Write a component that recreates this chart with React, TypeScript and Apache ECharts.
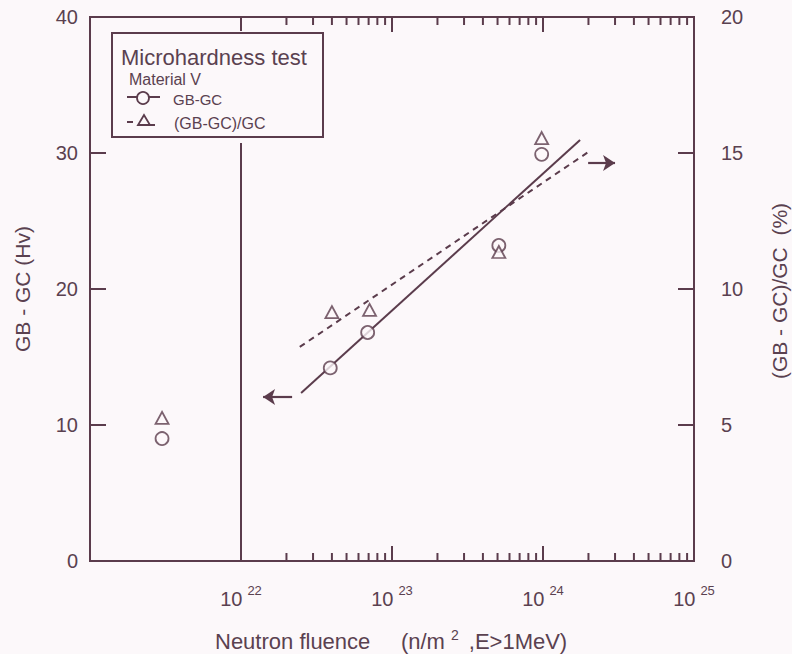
import React, { useEffect, useRef } from "react";
import * as echarts from "echarts";

// ---- data ----
const fluence = [3.0e21, 3.9e22, 6.9e22, 5.1e23, 9.8e23];
const gbMinusGc = [9.0, 14.2, 16.8, 23.2, 29.9];
const ratioFluence = [3.0e21, 4.0e22, 7.1e22, 5.1e23, 9.8e23];
const ratioPct = [5.26, 9.15, 9.23, 11.36, 15.55];
const solidFitX = [2.5e22, 1.76e24];
const solidFitY = [12.35, 30.96];
const dashedFitX = [2.45e22, 2.0e24];
const dashedFitY = [7.87, 15.04];
const tickDecades = [22, 23, 24];
const breakFluence = 1e22;
const leftArrowX = [2.18e22, 1.4e22];
const leftArrowY = 12.06;
const rightArrowX = [1.99e24, 3.0e24];
const rightArrowY = 29.26;

const C = "#5b3c4c";
const T = "#5a4150";
const BG = "#fcf8fa";
const FONT = "Liberation Sans";

export default function App() {
  const ref = useRef<HTMLDivElement>(null);
  useEffect(() => {
    if (!ref.current) return;
    const chart = echarts.init(ref.current, null, { renderer: "svg" });
    const tickData: number[][] = [];
    tickDecades.forEach((d) => {
      for (let k = 1; k <= 9; k++) tickData.push([k * Math.pow(10, d), 0, k === 1 ? 1 : 0]);
    });
    const hollow = { color: BG, borderColor: C, borderWidth: 1.8 };
    const option: any = {
      animation: false,
      backgroundColor: BG,
      textStyle: { fontFamily: FONT },
      grid: { left: 90, right: 98, top: 17, bottom: 93, show: true, borderColor: C, borderWidth: 2, backgroundColor: "transparent" },
      xAxis: {
        type: "log",
        logBase: 10,
        min: 1e21,
        max: 1e25,
        splitNumber: 4,
        axisLine: { show: true, lineStyle: { color: C, width: 2 } },
        axisTick: { show: false },
        splitLine: { show: false },
        axisLabel: {
          margin: 23,
          color: T,
          fontFamily: FONT,
          formatter: (v: number) => {
            const e = Math.round(Math.log10(v));
            if (e <= 21) return "";
            return `{b|10}{s|${e}}`;
          },
          rich: {
            b: { fontSize: 20, color: T, fontFamily: FONT, verticalAlign: "bottom" },
            s: { fontSize: 13, color: T, fontFamily: FONT, verticalAlign: "bottom", padding: [0, 0, 12, 5] },
          },
        },
      },
      yAxis: [
        {
          type: "value",
          min: 0,
          max: 40,
          interval: 10,
          axisLine: { show: true, lineStyle: { color: C, width: 2 } },
          axisTick: { show: true, inside: true, length: 16, lineStyle: { color: C, width: 2 } },
          splitLine: { show: false },
          axisLabel: { color: T, fontSize: 20, fontFamily: FONT, margin: 12 },
        },
        {
          type: "value",
          min: 0,
          max: 20,
          interval: 5,
          position: "right",
          axisLine: { show: true, lineStyle: { color: C, width: 2 } },
          axisTick: { show: true, inside: true, length: 16, lineStyle: { color: C, width: 2 } },
          splitLine: { show: false },
          axisLabel: { color: T, fontSize: 20, fontFamily: FONT, margin: 27 },
        },
      ],
      series: [
        {
          type: "custom",
          coordinateSystem: "cartesian2d",
          xAxisIndex: 0,
          yAxisIndex: 0,
          silent: true,
          data: tickData,
          renderItem: (params: any, api: any) => {
            const v = api.value(0);
            const major = api.value(2) === 1;
            const b = api.coord([v, 0]);
            const t = api.coord([v, 40]);
            const len = major ? 15 : 8;
            return {
              type: "group",
              children: [
                { type: "line", shape: { x1: b[0], y1: b[1], x2: b[0], y2: b[1] - len }, style: { stroke: C, lineWidth: 2 } },
                { type: "line", shape: { x1: t[0], y1: t[1], x2: t[0], y2: t[1] + len }, style: { stroke: C, lineWidth: 2 } },
              ],
            };
          },
        },
        {
          type: "line",
          xAxisIndex: 0,
          yAxisIndex: 0,
          data: [[breakFluence, 0], [breakFluence, 40]],
          symbol: "none",
          lineStyle: { color: C, width: 2 },
          z: 2,
        },
        {
          type: "line",
          yAxisIndex: 0,
          data: solidFitX.map((x, i) => [x, solidFitY[i]]),
          symbol: "none",
          lineStyle: { color: C, width: 2 },
          z: 3,
        },
        {
          type: "line",
          yAxisIndex: 1,
          data: dashedFitX.map((x, i) => [x, dashedFitY[i]]),
          symbol: "none",
          lineStyle: { color: C, width: 2, type: [6, 5] },
          z: 3,
        },
        {
          type: "lines",
          coordinateSystem: "cartesian2d",
          xAxisIndex: 0,
          yAxisIndex: 0,
          symbol: ["none", "arrow"],
          symbolSize: [11, 12],
          lineStyle: { color: C, width: 2.2, opacity: 1, curveness: 0 },
          data: [
            { coords: [[leftArrowX[0], leftArrowY], [leftArrowX[1], leftArrowY]] },
            { coords: [[rightArrowX[0], rightArrowY], [rightArrowX[1], rightArrowY]] },
          ],
          z: 4,
        },
        {
          type: "scatter",
          name: "GB-GC",
          yAxisIndex: 0,
          data: fluence.map((x, i) => [x, gbMinusGc[i]]),
          symbol: "circle",
          symbolSize: 13,
          itemStyle: hollow,
          z: 5,
        },
        {
          type: "scatter",
          name: "(GB-GC)/GC",
          yAxisIndex: 1,
          data: ratioFluence.map((x, i) => [x, ratioPct[i]]),
          symbol: "triangle",
          symbolSize: [13, 12],
          itemStyle: hollow,
          z: 5,
        },
      ],
      graphic: [
        { type: "rect", z: 100, shape: { x: 106, y: 31, width: 224, height: 112 }, style: { fill: BG } },
        { type: "rect", z: 101, shape: { x: 112, y: 33, width: 211, height: 104 }, style: { fill: "none", stroke: C, lineWidth: 2 } },
        { type: "text", z: 102, x: 121, y: 57, style: { text: "Microhardness test", fill: T, font: `22px "${FONT}"`, textVerticalAlign: "middle" } },
        { type: "text", z: 102, x: 129, y: 79, style: { text: "Material V", fill: T, font: `16px "${FONT}"`, textVerticalAlign: "middle" } },
        { type: "text", z: 102, x: 173, y: 99, style: { text: "GB-GC", fill: T, font: `15px "${FONT}"`, textVerticalAlign: "middle" } },
        { type: "text", z: 102, x: 174, y: 123, style: { text: "(GB-GC)/GC", fill: T, font: `16px "${FONT}"`, textVerticalAlign: "middle" } },
        { type: "line", z: 102, shape: { x1: 127, y1: 97, x2: 160, y2: 97 }, style: { stroke: C, lineWidth: 2 } },
        { type: "circle", z: 103, shape: { cx: 143, cy: 98, r: 6 }, style: { fill: BG, stroke: C, lineWidth: 1.8 } },
        { type: "line", z: 102, shape: { x1: 127, y1: 122, x2: 133, y2: 122 }, style: { stroke: C, lineWidth: 2 } },
        { type: "line", z: 102, shape: { x1: 148, y1: 125, x2: 155, y2: 125 }, style: { stroke: C, lineWidth: 2 } },
        { type: "polygon", z: 103, shape: { points: [[144, 115], [138, 125], [150, 125]] }, style: { fill: BG, stroke: C, lineWidth: 1.8 } },
        {
          type: "text", z: 102, x: 22, y: 289, rotation: Math.PI / 2,
          style: { text: "GB - GC (Hv)", fill: T, font: `21px "${FONT}"`, textAlign: "center", textVerticalAlign: "middle" },
        },
        {
          type: "text", z: 102, x: 779, y: 291, rotation: Math.PI / 2,
          style: { text: "(GB - GC)/GC  (%)", fill: T, font: `21px "${FONT}"`, textAlign: "center", textVerticalAlign: "middle" },
        },
        {
          type: "text", z: 102, x: 215, y: 640,
          style: {
            text: "{a|Neutron fluence     (n/m}{s|2}{a| ,E>1MeV)}",
            textVerticalAlign: "middle",
            rich: {
              a: { fontSize: 22, fill: T, fontFamily: FONT, verticalAlign: "bottom" },
              s: { fontSize: 14, fill: T, fontFamily: FONT, verticalAlign: "bottom", padding: [0, 4, 11, 6] },
            },
          },
        },
      ],
    };
    chart.setOption(option);
    return () => chart.dispose();
  }, []);
  return <div ref={ref} style={{ position: "fixed", left: 0, top: 0, width: 792, height: 654 }} />;
}
